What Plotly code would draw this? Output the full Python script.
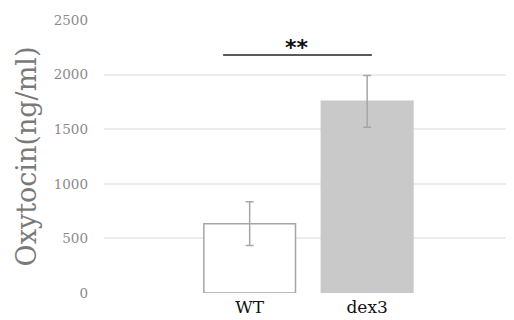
import plotly.graph_objects as go

categories = ["WT", "dex3"]
means = [635, 1755]
errors = [200, 237]
y_ticks = [0, 500, 1000, 1500, 2000, 2500]
sig_label = "**"
sig_level = 2180

fig = go.Figure()
fig.add_trace(go.Bar(
    x=[0, 1], y=means,
    width=0.78,
    marker=dict(color=["#ffffff", "#c9c9c9"],
                line=dict(color=["#a6a6a6", "#c9c9c9"], width=1.5)),
    error_y=dict(type="data", array=errors, visible=True,
                 color="#a6a6a6", thickness=1.5, width=4),
))

fig.add_shape(type="line", x0=-0.226, x1=1.04, y0=sig_level, y1=sig_level,
              xref="x", yref="y", line=dict(color="#595959", width=2))
fig.add_annotation(x=0.405, y=sig_level, text="<b>" + sig_label + "</b>", showarrow=False,
                   yanchor="bottom", yshift=-7,
                   font=dict(family="DejaVu Sans", size=22, color="#111111"))

fig.update_layout(
    width=506, height=312,
    margin=dict(l=96, r=0, t=12, b=27),
    plot_bgcolor="white", paper_bgcolor="white",
    showlegend=False,
    font=dict(family="DejaVu Serif"),
    xaxis=dict(range=[-1.24, 2.25], tickmode="array", tickvals=[0, 1],
               ticktext=categories, showgrid=False, zeroline=False,
               showline=False, ticks="", ticklabelstandoff=2,
               tickfont=dict(family="DejaVu Serif", size=17, color="#111111")),
    yaxis=dict(range=[0, 2500], tickvals=y_ticks, showgrid=True,
               gridcolor="#ececec", gridwidth=1.5, zeroline=False,
               showline=False, ticks="", ticklabelstandoff=15,
               tickfont=dict(family="DejaVu Serif", size=13.5, color="#8a8a8a"),
               title=dict(text="Oxytocin(ng/ml)", standoff=9,
                          font=dict(family="DejaVu Serif", size=27, color="#7a7a7a"))),
)

fig.write_html("out.html")
